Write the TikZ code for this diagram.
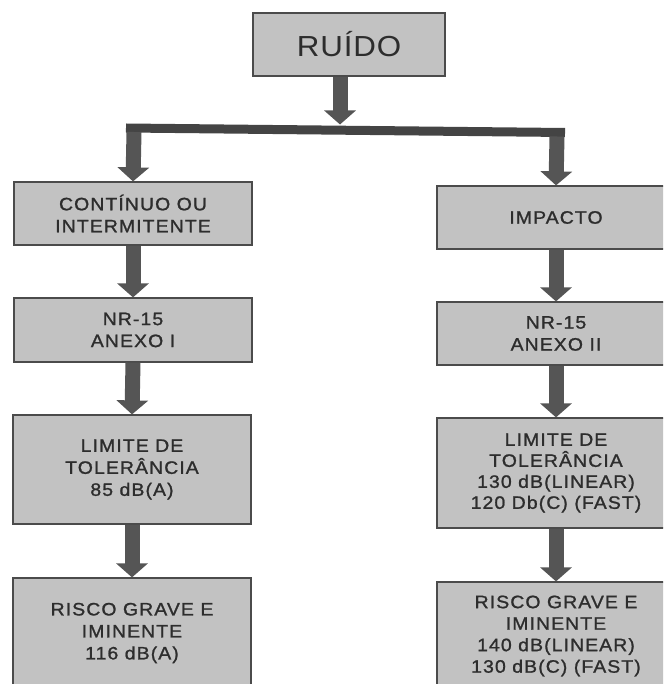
\documentclass[tikz,border=0pt]{standalone}
\usepackage{fontspec}
\setmainfont{Liberation Sans}
\newfontfamily\spacedfont[LetterSpace=6,FakeBold=1.2,FakeStretch=1.08]{Liberation Sans}
\newfontfamily\titlefont[LetterSpace=3,FakeStretch=1.08]{Liberation Sans}
\usetikzlibrary{arrows.meta}
\definecolor{boxfill}{RGB}{194,194,194}
\definecolor{boxline}{RGB}{75,75,75}
\definecolor{arrowgray}{RGB}{85,85,85}
\definecolor{bargray}{RGB}{68,68,68}
\definecolor{txtgray}{RGB}{45,45,45}
\tikzset{
  flowbox/.style={draw=boxline, line width=1.2pt, fill=boxfill, rectangle, inner sep=0pt,
    minimum width=238pt, text=txtgray, align=center,
    font=\spacedfont\fontsize{18}{22}\selectfont, anchor=center},
  bigarrow/.style={draw=arrowgray, line width=15pt,
    -{Triangle[width=31pt,length=14pt]}},
}
\begin{document}
\begin{tikzpicture}[x=1pt,y=-1pt]
\useasboundingbox (0,0) rectangle (663,684);
\clip (0,0) rectangle (663,684);
\fill[white] (0,0) rectangle (663,684);
% nodes
\node[flowbox, minimum width=192pt, minimum height=63pt, font=\titlefont\fontsize{29}{32}\selectfont] (ruido) at (349,44.5) {RUÍDO};
\node[flowbox, minimum height=63pt] (c1) at (133,213.5) {CONTÍNUO OU\\INTERMITENTE};
\node[flowbox, minimum height=64pt] (c2) at (133,330) {NR-15\\ANEXO I};
\node[flowbox, minimum height=109pt] (c3) at (132,469.5) {LIMITE DE\\TOLERÂNCIA\\85 dB(A)};
\node[flowbox, minimum height=110pt] (c4) at (132,633) {RISCO GRAVE E\\IMINENTE\\116 dB(A)};
\node[flowbox, minimum height=63pt] (r1) at (556,217.5) {IMPACTO};
\node[flowbox, minimum height=63pt] (r2) at (556,333.5) {NR-15\\ANEXO II};
\node[flowbox, minimum height=110pt, font=\spacedfont\fontsize{18}{21}\selectfont] (r3) at (556,473) {LIMITE DE\\TOLERÂNCIA\\130 dB(LINEAR)\\120 Db(C) (FAST)};
\node[flowbox, minimum height=108pt, font=\spacedfont\fontsize{18}{21.5}\selectfont] (r4) at (556,636) {RISCO GRAVE E\\IMINENTE\\140 dB(LINEAR)\\130 dB(C) (FAST)};
% bar coordinates
\coordinate (barL) at (134,128);
\coordinate (barR) at (557,132.5);
\coordinate (barTop) at (340,124.5);
% connectors
\draw[bigarrow] ([xshift=-9pt]ruido.south) -- (barTop);
\draw[bargray, line width=9pt] ([xshift=-8pt]barL) -- ([xshift=8pt]barR);
\draw[bigarrow] ([yshift=-4pt]barL) -- (c1.north);
\draw[bigarrow] ([yshift=-4pt]barR) -- (r1.north);
\draw[bigarrow] (c1.south) -- (c2.north);
\draw[bigarrow] (c2.south) -- (c3.north);
\draw[bigarrow] (c3.south) -- (c4.north);
\draw[bigarrow] (r1.south) -- (r2.north);
\draw[bigarrow] (r2.south) -- (r3.north);
\draw[bigarrow] (r3.south) -- (r4.north);
\end{tikzpicture}
\end{document}
